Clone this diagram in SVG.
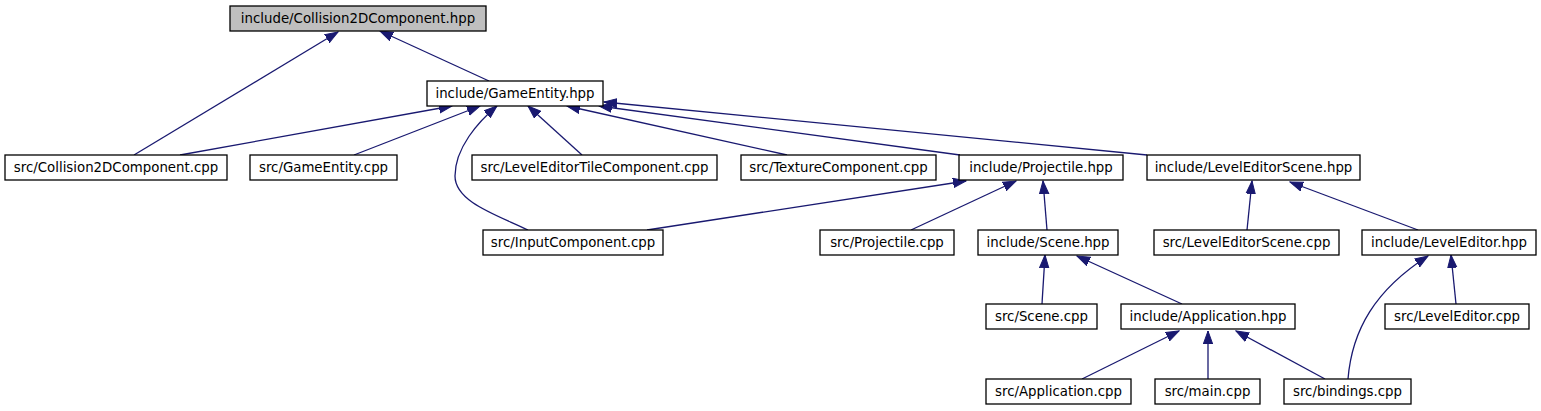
<svg xmlns="http://www.w3.org/2000/svg" width="1541" height="411" viewBox="0 0 1541 411">
<style>
.n rect{fill:#ffffff;stroke:#000000;stroke-width:1.3}
.n.hl rect{fill:#bfbfbf}
.n text{font-family:"DejaVu Sans",sans-serif;font-size:13.33px;text-anchor:middle;fill:#000000}
.e path{fill:none;stroke:#191970;stroke-width:1.3;marker-end:url(#ah)}
</style>
<defs>
<marker id="ah" markerUnits="userSpaceOnUse" markerWidth="14" markerHeight="11" refX="13" refY="5.5" orient="auto" viewBox="0 0 14 11">
<path d="M0,0.8 L13,5.5 L0,10.2 z" fill="#191970" stroke="#191970" stroke-width="1"/>
</marker>
</defs>
<rect width="1541" height="411" fill="#ffffff"/>
<g id="connectors" class="e">
<path d="M134,155 L338,32"/>
<path d="M489,81 L380,31"/>
<path d="M180,155 L452,106"/>
<path d="M354,155 L480,106"/>
<path d="M528,230 C497,215 455,202 455,176 C455,148 478,122 497,106"/>
<path d="M582,155 L528,106"/>
<path d="M787,155 L567,106"/>
<path d="M960,155 L599,106"/>
<path d="M1147,155 L604,102"/>
<path d="M647,230 L966,181"/>
<path d="M911,230 L1016,181"/>
<path d="M1047,230 L1043,181"/>
<path d="M1247,230 L1252,181"/>
<path d="M1418,230 L1290,182"/>
<path d="M1042,304 L1045,255"/>
<path d="M1182,304 L1077,256"/>
<path d="M1348,379 C1352,330 1375,290 1428,256"/>
<path d="M1456,304 L1451,255"/>
<path d="M1082,379 L1179,331"/>
<path d="M1208,379 L1208,331"/>
<path d="M1325,379 L1236,331"/>
</g>
<g id="n_collision_hpp" class="n hl"><rect x="230" y="6" width="256" height="25"/><text x="358" y="23">include/Collision2DComponent.hpp</text></g>
<g id="n_gameentity_hpp" class="n"><rect x="427" y="81" width="176" height="25"/><text x="515" y="98">include/GameEntity.hpp</text></g>
<g id="n_collision_cpp" class="n"><rect x="5" y="155" width="222" height="25"/><text x="116" y="172">src/Collision2DComponent.cpp</text></g>
<g id="n_gameentity_cpp" class="n"><rect x="250" y="155" width="147" height="25"/><text x="323.5" y="172">src/GameEntity.cpp</text></g>
<g id="n_leveleditortile_cpp" class="n"><rect x="472" y="155" width="245" height="25"/><text x="594.5" y="172">src/LevelEditorTileComponent.cpp</text></g>
<g id="n_texture_cpp" class="n"><rect x="741" y="155" width="195" height="25"/><text x="838.5" y="172">src/TextureComponent.cpp</text></g>
<g id="n_projectile_hpp" class="n"><rect x="959" y="155" width="164" height="25"/><text x="1041" y="172">include/Projectile.hpp</text></g>
<g id="n_leveleditorscene_hpp" class="n"><rect x="1147" y="155" width="213" height="25"/><text x="1253.5" y="172">include/LevelEditorScene.hpp</text></g>
<g id="n_input_cpp" class="n"><rect x="483" y="230" width="180" height="25"/><text x="573" y="247">src/InputComponent.cpp</text></g>
<g id="n_projectile_cpp" class="n"><rect x="820" y="230" width="134" height="25"/><text x="887" y="247">src/Projectile.cpp</text></g>
<g id="n_scene_hpp" class="n"><rect x="978" y="230" width="140" height="25"/><text x="1048" y="247">include/Scene.hpp</text></g>
<g id="n_leveleditorscene_cpp" class="n"><rect x="1154" y="230" width="185" height="25"/><text x="1246.5" y="247">src/LevelEditorScene.cpp</text></g>
<g id="n_leveleditor_hpp" class="n"><rect x="1362" y="230" width="174" height="25"/><text x="1449" y="247">include/LevelEditor.hpp</text></g>
<g id="n_scene_cpp" class="n"><rect x="986" y="304" width="111" height="25"/><text x="1041.5" y="321">src/Scene.cpp</text></g>
<g id="n_application_hpp" class="n"><rect x="1121" y="304" width="174" height="25"/><text x="1208" y="321">include/Application.hpp</text></g>
<g id="n_leveleditor_cpp" class="n"><rect x="1385" y="304" width="144" height="25"/><text x="1457" y="321">src/LevelEditor.cpp</text></g>
<g id="n_application_cpp" class="n"><rect x="986" y="379" width="145" height="25"/><text x="1058.5" y="396">src/Application.cpp</text></g>
<g id="n_main_cpp" class="n"><rect x="1155" y="379" width="105" height="25"/><text x="1207.5" y="396">src/main.cpp</text></g>
<g id="n_bindings_cpp" class="n"><rect x="1284" y="379" width="127" height="25"/><text x="1347.5" y="396">src/bindings.cpp</text></g>
</svg>
